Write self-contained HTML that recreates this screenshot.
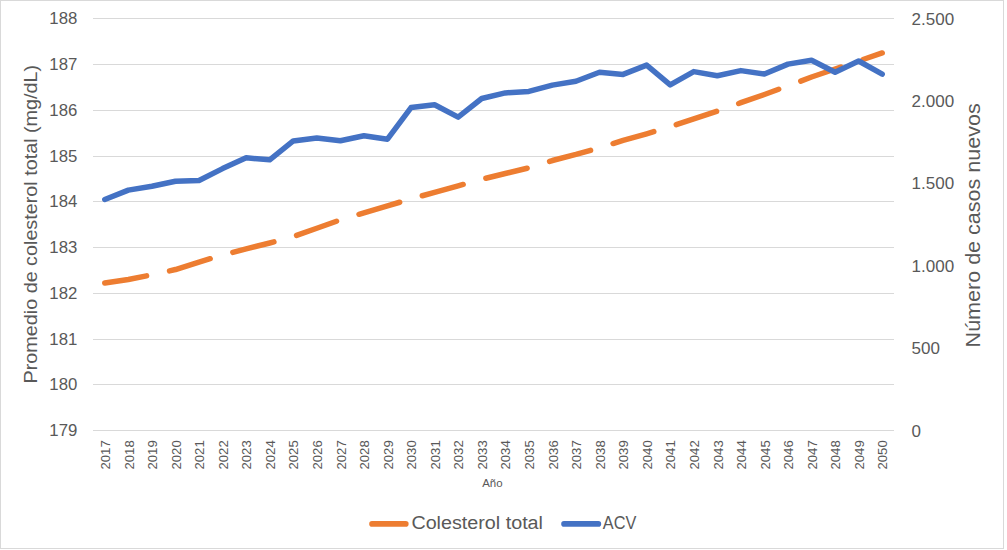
<!DOCTYPE html>
<html><head><meta charset="utf-8"><style>
html,body{margin:0;padding:0;background:#fff;width:1007px;height:550px;overflow:hidden;position:relative}
</style></head><body>
<svg width="1007" height="550" viewBox="0 0 1007 550" style="position:absolute;left:0;top:0" font-family='"Liberation Sans", sans-serif' fill="#595959">
<rect x="0.5" y="0.5" width="1003" height="548" fill="#fff" stroke="#d9d9d9" stroke-width="1"/>
<line x1="93" y1="18.5" x2="894" y2="18.5" stroke="#d9d9d9" stroke-width="1"/>
<line x1="93" y1="64.5" x2="894" y2="64.5" stroke="#d9d9d9" stroke-width="1"/>
<line x1="93" y1="110.5" x2="894" y2="110.5" stroke="#d9d9d9" stroke-width="1"/>
<line x1="93" y1="156.5" x2="894" y2="156.5" stroke="#d9d9d9" stroke-width="1"/>
<line x1="93" y1="201.5" x2="894" y2="201.5" stroke="#d9d9d9" stroke-width="1"/>
<line x1="93" y1="247.5" x2="894" y2="247.5" stroke="#d9d9d9" stroke-width="1"/>
<line x1="93" y1="293.5" x2="894" y2="293.5" stroke="#d9d9d9" stroke-width="1"/>
<line x1="93" y1="339.5" x2="894" y2="339.5" stroke="#d9d9d9" stroke-width="1"/>
<line x1="93" y1="384.5" x2="894" y2="384.5" stroke="#d9d9d9" stroke-width="1"/>
<line x1="93" y1="430.5" x2="894" y2="430.5" stroke="#d9d9d9" stroke-width="1"/>
<text x="77.3" y="24.1" font-size="17.2" text-anchor="end" textLength="28.0" lengthAdjust="spacingAndGlyphs">188</text>
<text x="77.3" y="70.1" font-size="17.2" text-anchor="end" textLength="28.0" lengthAdjust="spacingAndGlyphs">187</text>
<text x="77.3" y="116.1" font-size="17.2" text-anchor="end" textLength="28.0" lengthAdjust="spacingAndGlyphs">186</text>
<text x="77.3" y="162.1" font-size="17.2" text-anchor="end" textLength="28.0" lengthAdjust="spacingAndGlyphs">185</text>
<text x="77.3" y="207.1" font-size="17.2" text-anchor="end" textLength="28.0" lengthAdjust="spacingAndGlyphs">184</text>
<text x="77.3" y="253.1" font-size="17.2" text-anchor="end" textLength="28.0" lengthAdjust="spacingAndGlyphs">183</text>
<text x="77.3" y="299.1" font-size="17.2" text-anchor="end" textLength="28.0" lengthAdjust="spacingAndGlyphs">182</text>
<text x="77.3" y="345.1" font-size="17.2" text-anchor="end" textLength="28.0" lengthAdjust="spacingAndGlyphs">181</text>
<text x="77.3" y="390.1" font-size="17.2" text-anchor="end" textLength="28.0" lengthAdjust="spacingAndGlyphs">180</text>
<text x="77.3" y="436.1" font-size="17.2" text-anchor="end" textLength="28.0" lengthAdjust="spacingAndGlyphs">179</text>
<text x="911.6" y="436.6" font-size="17">0</text>
<text x="911.6" y="354.2" font-size="17">500</text>
<text x="911.6" y="271.8" font-size="17">1.000</text>
<text x="911.6" y="189.4" font-size="17">1.500</text>
<text x="911.6" y="107.0" font-size="17">2.000</text>
<text x="911.6" y="24.6" font-size="17">2.500</text>
<text transform="translate(109.98,440.3) rotate(-90)" font-size="12.4" text-anchor="end" textLength="29.2" lengthAdjust="spacingAndGlyphs">2017</text>
<text transform="translate(133.54,440.3) rotate(-90)" font-size="12.4" text-anchor="end" textLength="29.2" lengthAdjust="spacingAndGlyphs">2018</text>
<text transform="translate(157.10,440.3) rotate(-90)" font-size="12.4" text-anchor="end" textLength="29.2" lengthAdjust="spacingAndGlyphs">2019</text>
<text transform="translate(180.66,440.3) rotate(-90)" font-size="12.4" text-anchor="end" textLength="29.2" lengthAdjust="spacingAndGlyphs">2020</text>
<text transform="translate(204.21,440.3) rotate(-90)" font-size="12.4" text-anchor="end" textLength="29.2" lengthAdjust="spacingAndGlyphs">2021</text>
<text transform="translate(227.77,440.3) rotate(-90)" font-size="12.4" text-anchor="end" textLength="29.2" lengthAdjust="spacingAndGlyphs">2022</text>
<text transform="translate(251.33,440.3) rotate(-90)" font-size="12.4" text-anchor="end" textLength="29.2" lengthAdjust="spacingAndGlyphs">2023</text>
<text transform="translate(274.89,440.3) rotate(-90)" font-size="12.4" text-anchor="end" textLength="29.2" lengthAdjust="spacingAndGlyphs">2024</text>
<text transform="translate(298.45,440.3) rotate(-90)" font-size="12.4" text-anchor="end" textLength="29.2" lengthAdjust="spacingAndGlyphs">2025</text>
<text transform="translate(322.01,440.3) rotate(-90)" font-size="12.4" text-anchor="end" textLength="29.2" lengthAdjust="spacingAndGlyphs">2026</text>
<text transform="translate(345.57,440.3) rotate(-90)" font-size="12.4" text-anchor="end" textLength="29.2" lengthAdjust="spacingAndGlyphs">2027</text>
<text transform="translate(369.13,440.3) rotate(-90)" font-size="12.4" text-anchor="end" textLength="29.2" lengthAdjust="spacingAndGlyphs">2028</text>
<text transform="translate(392.69,440.3) rotate(-90)" font-size="12.4" text-anchor="end" textLength="29.2" lengthAdjust="spacingAndGlyphs">2029</text>
<text transform="translate(416.24,440.3) rotate(-90)" font-size="12.4" text-anchor="end" textLength="29.2" lengthAdjust="spacingAndGlyphs">2030</text>
<text transform="translate(439.80,440.3) rotate(-90)" font-size="12.4" text-anchor="end" textLength="29.2" lengthAdjust="spacingAndGlyphs">2031</text>
<text transform="translate(463.36,440.3) rotate(-90)" font-size="12.4" text-anchor="end" textLength="29.2" lengthAdjust="spacingAndGlyphs">2032</text>
<text transform="translate(486.92,440.3) rotate(-90)" font-size="12.4" text-anchor="end" textLength="29.2" lengthAdjust="spacingAndGlyphs">2033</text>
<text transform="translate(510.48,440.3) rotate(-90)" font-size="12.4" text-anchor="end" textLength="29.2" lengthAdjust="spacingAndGlyphs">2034</text>
<text transform="translate(534.04,440.3) rotate(-90)" font-size="12.4" text-anchor="end" textLength="29.2" lengthAdjust="spacingAndGlyphs">2035</text>
<text transform="translate(557.60,440.3) rotate(-90)" font-size="12.4" text-anchor="end" textLength="29.2" lengthAdjust="spacingAndGlyphs">2036</text>
<text transform="translate(581.16,440.3) rotate(-90)" font-size="12.4" text-anchor="end" textLength="29.2" lengthAdjust="spacingAndGlyphs">2037</text>
<text transform="translate(604.71,440.3) rotate(-90)" font-size="12.4" text-anchor="end" textLength="29.2" lengthAdjust="spacingAndGlyphs">2038</text>
<text transform="translate(628.27,440.3) rotate(-90)" font-size="12.4" text-anchor="end" textLength="29.2" lengthAdjust="spacingAndGlyphs">2039</text>
<text transform="translate(651.83,440.3) rotate(-90)" font-size="12.4" text-anchor="end" textLength="29.2" lengthAdjust="spacingAndGlyphs">2040</text>
<text transform="translate(675.39,440.3) rotate(-90)" font-size="12.4" text-anchor="end" textLength="29.2" lengthAdjust="spacingAndGlyphs">2041</text>
<text transform="translate(698.95,440.3) rotate(-90)" font-size="12.4" text-anchor="end" textLength="29.2" lengthAdjust="spacingAndGlyphs">2042</text>
<text transform="translate(722.51,440.3) rotate(-90)" font-size="12.4" text-anchor="end" textLength="29.2" lengthAdjust="spacingAndGlyphs">2043</text>
<text transform="translate(746.07,440.3) rotate(-90)" font-size="12.4" text-anchor="end" textLength="29.2" lengthAdjust="spacingAndGlyphs">2044</text>
<text transform="translate(769.63,440.3) rotate(-90)" font-size="12.4" text-anchor="end" textLength="29.2" lengthAdjust="spacingAndGlyphs">2045</text>
<text transform="translate(793.19,440.3) rotate(-90)" font-size="12.4" text-anchor="end" textLength="29.2" lengthAdjust="spacingAndGlyphs">2046</text>
<text transform="translate(816.74,440.3) rotate(-90)" font-size="12.4" text-anchor="end" textLength="29.2" lengthAdjust="spacingAndGlyphs">2047</text>
<text transform="translate(840.30,440.3) rotate(-90)" font-size="12.4" text-anchor="end" textLength="29.2" lengthAdjust="spacingAndGlyphs">2048</text>
<text transform="translate(863.86,440.3) rotate(-90)" font-size="12.4" text-anchor="end" textLength="29.2" lengthAdjust="spacingAndGlyphs">2049</text>
<text transform="translate(887.42,440.3) rotate(-90)" font-size="12.4" text-anchor="end" textLength="29.2" lengthAdjust="spacingAndGlyphs">2050</text>
<text transform="translate(36.8,383.4) rotate(-90)" font-size="17.7" textLength="318.5" lengthAdjust="spacingAndGlyphs">Promedio de colesterol total (mg/dL)</text>
<text transform="translate(980,347.4) rotate(-90)" font-size="20.5" textLength="244.1" lengthAdjust="spacingAndGlyphs">Número de casos nuevos</text>
<text x="482.2" y="486.8" font-size="10.4" textLength="20.4" lengthAdjust="spacingAndGlyphs">Año</text>
<polyline points="104.78,283.09 128.34,279.46 151.90,274.79 175.46,269.55 199.01,262.02 222.57,255.08 246.13,248.93 269.69,243.03 293.25,236.61 316.81,228.28 340.37,219.87 363.93,212.82 387.49,205.81 411.04,198.92 434.60,192.31 458.16,185.85 481.72,179.25 505.28,173.51 528.84,167.84 552.40,160.53 575.96,154.44 599.51,147.77 623.07,140.46 646.63,133.79 670.19,126.64 693.75,118.96 717.31,111.16 740.87,102.69 764.43,94.52 787.99,85.85 811.54,77.01 835.10,68.99 858.66,60.98 882.22,52.96" fill="none" stroke="#ED7D31" stroke-width="5.5" stroke-linecap="round" stroke-linejoin="round" stroke-dasharray="42.4 23.55"/>
<polyline points="104.78,199.50 128.34,190.10 151.90,186.30 175.46,181.20 199.01,180.50 222.57,168.60 246.13,157.80 269.69,159.80 293.25,140.90 316.81,138.00 340.37,140.80 363.93,135.70 387.49,139.20 411.04,107.60 434.60,104.80 458.16,117.10 481.72,98.50 505.28,92.90 528.84,91.40 552.40,85.10 575.96,81.20 599.51,72.30 623.07,74.40 646.63,65.10 670.19,84.90 693.75,71.60 717.31,75.70 740.87,70.60 764.43,74.00 787.99,64.10 811.54,60.20 835.10,72.20 858.66,61.00 882.22,74.20" fill="none" stroke="#4472C4" stroke-width="5.5" stroke-linecap="round" stroke-linejoin="round"/>
<line x1="372" y1="523.9" x2="405.8" y2="523.9" stroke="#ED7D31" stroke-width="5.6" stroke-linecap="round"/>
<text x="411.4" y="528.8" font-size="17.6" textLength="131.6" lengthAdjust="spacingAndGlyphs">Colesterol total</text>
<line x1="564" y1="523.9" x2="598.4" y2="523.9" stroke="#4472C4" stroke-width="5.6" stroke-linecap="round"/>
<text x="602.8" y="528.8" font-size="17.6" textLength="33.5" lengthAdjust="spacingAndGlyphs">ACV</text>
</svg>
</body></html>
